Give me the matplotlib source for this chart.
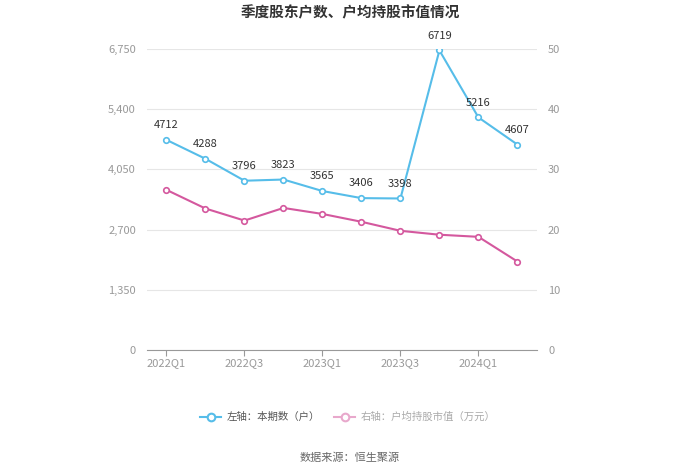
import matplotlib
matplotlib.use("Agg")
import matplotlib.pyplot as plt
from matplotlib.lines import Line2D

plt.rcParams['font.family'] = ['Noto Sans CJK SC', 'DejaVu Sans']

quarters = ["2022Q1", "2022Q2", "2022Q3", "2022Q4", "2023Q1", "2023Q2",
            "2023Q3", "2023Q4", "2024Q1", "2024Q2"]
holders = [4712, 4288, 3796, 3823, 3565, 3406, 3398, 6719, 5216, 4607]
avg_value = [26.6, 23.5, 21.5, 23.6, 22.6, 21.3, 19.8, 19.15, 18.8, 14.7]
left_ticks = [0, 1350, 2700, 4050, 5400, 6750]
right_ticks = [0, 10, 20, 30, 40, 50]

blue = "#56bde9"
pink = "#d4589e"
grey = "#999999"

fig = plt.figure(figsize=(7, 4.74), dpi=100)
ax = fig.add_axes([0.21, 0.2616, 0.557, 0.635])
ax2 = ax.twinx()

x = list(range(len(quarters)))
ax.plot(x, holders, color=blue, lw=1.5, marker='o', ms=4, mfc='white', mec=blue, mew=1.2, zorder=3)
ax2.plot(x, avg_value, color=pink, lw=1.5, marker='o', ms=4, mfc='white', mec=pink, mew=1.2, zorder=3)

for xi, v in zip(x, holders):
    ax.annotate(str(v), (xi, v), xytext=(0, 7), textcoords='offset points',
                ha='center', va='bottom', fontsize=8, color='#333333')

ax.set_xlim(-0.5, len(quarters) - 0.5)
ax.set_ylim(0, 6750)
ax2.set_ylim(0, 50)
ax.set_yticks(left_ticks)
ax.set_yticklabels([f"{t:,}" for t in left_ticks])
ax2.set_yticks(right_ticks)
ax.set_xticks(x[::2])
ax.set_xticklabels(quarters[::2])

ax.grid(axis='y', color='#e6e6e6', lw=0.8)
ax.set_axisbelow(True)
for a in (ax, ax2):
    for s in a.spines.values():
        s.set_visible(False)
ax.spines['bottom'].set_visible(True)
ax.spines['bottom'].set_color(grey)
ax.tick_params(axis='y', length=0, labelsize=8, labelcolor=grey, pad=8)
ax2.tick_params(axis='y', length=0, labelsize=8, labelcolor=grey, pad=8)
ax.tick_params(axis='x', length=4, color=grey, labelsize=8, labelcolor=grey, pad=2)

fig.text(0.5, 0.974, "季度股东户数、户均持股市值情况", ha='center', va='center',
         fontsize=10.5, fontweight='bold', color='#333333')

h1 = Line2D([], [], color=blue, lw=1.5, marker='o', ms=5.5, mfc='white', mec=blue, mew=1.5)
h2 = Line2D([], [], color='#e8a8cc', lw=1.5, marker='o', ms=5.5, mfc='white', mec='#e8a8cc', mew=1.5)
leg = fig.legend([h1, h2], ["左轴：本期数（户）", "右轴：户均持股市值（万元）"],
                 loc='center', bbox_to_anchor=(0.497, 0.12), ncol=2, frameon=False,
                 fontsize=7.5, handlelength=2.0, columnspacing=1.4, handletextpad=0.5)
texts = leg.get_texts()
texts[0].set_color('#555555')
texts[1].set_color('#aaaaaa')

fig.text(0.5, 0.035, "数据来源：恒生聚源", ha='center', va='center', fontsize=8, color='#666666')

fig.savefig("out.png", dpi=100)
